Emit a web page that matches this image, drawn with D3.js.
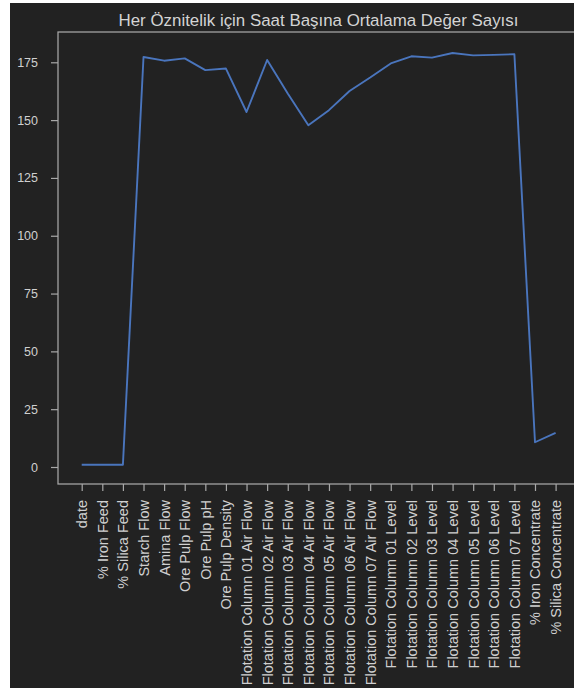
<!DOCTYPE html>
<html>
<head>
<meta charset="utf-8">
<script src="https://cdn.jsdelivr.net/npm/d3@7"></script>
<style>
  html, body { margin: 0; padding: 0; background: #ffffff; }
  svg { display: block; }
</style>
</head>
<body>
<svg id="chart" width="574" height="688"></svg>
<script>
const categories = [
  "date", "% Iron Feed", "% Silica Feed", "Starch Flow", "Amina Flow",
  "Ore Pulp Flow", "Ore Pulp pH", "Ore Pulp Density",
  "Flotation Column 01 Air Flow", "Flotation Column 02 Air Flow",
  "Flotation Column 03 Air Flow", "Flotation Column 04 Air Flow",
  "Flotation Column 05 Air Flow", "Flotation Column 06 Air Flow",
  "Flotation Column 07 Air Flow",
  "Flotation Column 01 Level", "Flotation Column 02 Level",
  "Flotation Column 03 Level", "Flotation Column 04 Level",
  "Flotation Column 05 Level", "Flotation Column 06 Level",
  "Flotation Column 07 Level",
  "% Iron Concentrate", "% Silica Concentrate"
];
const values = [
  1.0, 1.0, 1.0, 177.3, 175.7,
  176.7, 171.6, 172.3,
  153.5, 176.0, 161.5, 147.8, 154.3, 162.6, 168.4,
  174.5, 177.6, 177.0, 179.0, 178.0, 178.2, 178.5,
  10.7, 14.8
];
const yTicks = [0, 25, 50, 75, 100, 125, 150, 175];
const title = "Her Öznitelik için Saat Başına Ortalama Değer Sayısı";

const W = 574, H = 688;
const svg = d3.select("#chart");
const font = "'Liberation Sans', Arial, Helvetica, sans-serif";
const bg = "#222222";
const fg = "#d0d0d0";
const spine = "#a8a8a8";

// page background (white strip at left/top as in the reference)
svg.append("rect").attr("x", 0).attr("y", 0).attr("width", W).attr("height", H).attr("fill", "#ffffff");
svg.append("rect").attr("x", 10).attr("y", 3).attr("width", W - 10).attr("height", H - 3).attr("fill", bg);

// plot frame
const frame = { left: 58, top: 32, right: 579, bottom: 484 };

const x = d3.scalePoint().domain(categories).range([81.7, 555.6]);
const y = d3.scaleLinear().domain([0, 175]).range([467, 62.3]);

// line
const line = d3.line()
  .x((d, i) => x(categories[i]))
  .y(d => y(d));

svg.append("path")
  .datum(values)
  .attr("d", line)
  .attr("fill", "none")
  .attr("stroke", "#4a75bd")
  .attr("stroke-width", 1.9)
  .attr("stroke-linejoin", "round");

// frame
svg.append("rect")
  .attr("x", frame.left).attr("y", frame.top)
  .attr("width", frame.right - frame.left)
  .attr("height", frame.bottom - frame.top)
  .attr("fill", "none")
  .attr("stroke", spine)
  .attr("stroke-width", 1.25);

// y axis
const yAxis = d3.axisLeft(y).tickValues(yTicks).tickSize(7).tickPadding(13);
const gy = svg.append("g").attr("transform", `translate(${frame.left},0)`).call(yAxis);
gy.select(".domain").remove();
gy.selectAll(".tick line").attr("stroke", spine).attr("stroke-width", 1.2);
gy.selectAll(".tick text")
  .attr("fill", fg)
  .style("font-family", font)
  .style("font-size", "12.5px");

// x axis
const xAxis = d3.axisBottom(x).tickSize(7).tickPadding(0);
const gx = svg.append("g").attr("transform", `translate(0,${frame.bottom})`).call(xAxis);
gx.select(".domain").remove();
gx.selectAll(".tick line").attr("stroke", spine).attr("stroke-width", 1.2);
gx.selectAll(".tick text")
  .attr("fill", fg)
  .style("font-family", font)
  .style("font-size", "14.5px")
  .attr("text-anchor", "end")
  .attr("dominant-baseline", "central")
  .attr("x", 0).attr("y", 0).attr("dy", null)
  .attr("transform", "translate(0,16) rotate(-90)");

// title
svg.append("text")
  .attr("x", (frame.left + frame.right) / 2)
  .attr("y", 26)
  .attr("text-anchor", "middle")
  .attr("fill", "#d4d4d4")
  .style("font-family", font)
  .style("font-size", "16.9px")
  .text(title);
</script>
</body>
</html>
